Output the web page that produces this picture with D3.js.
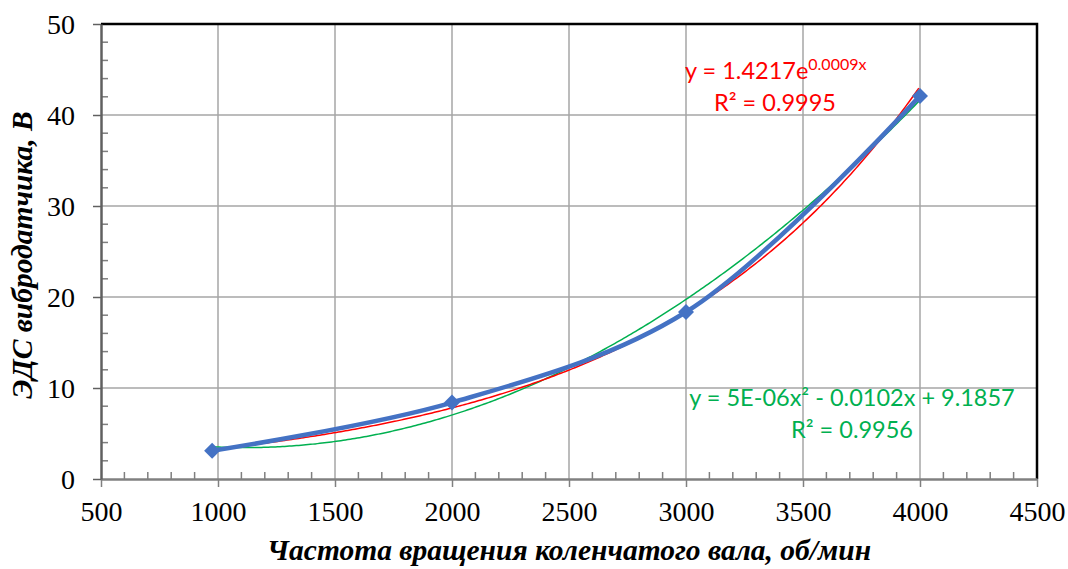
<!DOCTYPE html>
<html lang="ru">
<head>
<meta charset="UTF-8">
<title>ЭДС вибродатчика</title>
<script src="https://d3js.org/d3.v7.min.js"></script>
<style>
  body { margin: 0; background: #fff; }
  .tick text { font-family: "Liberation Serif", "Times New Roman", serif; }
</style>
</head>
<body>
<svg id="chart"></svg>
<script>
// data
const rpm = [975, 2000, 3000, 4000];
const emf = [3.1, 8.4, 18.35, 42.1];
const xTicks = [500, 1000, 1500, 2000, 2500, 3000, 3500, 4000, 4500];
const yTicks = [0, 10, 20, 30, 40, 50];
const expLabel = ["y = 1.4217e", "0.0009x", "R² = 0.9995"];
const polyLabel = ["y = 5E-06x² - 0.0102x + 9.1857", "R² = 0.9956"];
const xTitle = "Частота вращения коленчатого вала, об/мин";
const yTitle = "ЭДС вибродатчика, В";

const width = 1068, height = 569;
const m = {left: 101, right: 31, top: 24, bottom: 90};

const svg = d3.select("#chart").attr("width", width).attr("height", height);

const x = d3.scaleLinear().domain([500, 4500]).range([m.left, width - m.right]);
const y = d3.scaleLinear().domain([0, 50]).range([height - m.bottom, m.top]);

// grid
svg.append("g").selectAll("line").data(xTicks.slice(1, -1)).join("line")
  .attr("x1", d => x(d)).attr("x2", d => x(d))
  .attr("y1", y(50)).attr("y2", y(0))
  .attr("stroke", "#a6a6a6").attr("stroke-width", 1.5);
svg.append("g").selectAll("line").data(yTicks.slice(1, -1)).join("line")
  .attr("x1", x(500)).attr("x2", x(4500))
  .attr("y1", d => y(d)).attr("y2", d => y(d))
  .attr("stroke", "#a6a6a6").attr("stroke-width", 1.5);

// top and right border
svg.append("path")
  .attr("d", `M${x(500)},${y(50)}H${x(4500)}V${y(0)}`)
  .attr("fill", "none").attr("stroke", "#000").attr("stroke-width", 2.5);

// minor ticks (inside)
const xMinor = d3.range(500, 4501, 100).filter(v => v % 500 !== 0);
const yMinor = d3.range(0, 50.1, 2).filter(v => v % 10 !== 0);
svg.append("g").selectAll("line").data(xMinor).join("line")
  .attr("x1", d => x(d)).attr("x2", d => x(d))
  .attr("y1", y(0)).attr("y2", y(0) - 7)
  .attr("stroke", "#7f7f7f").attr("stroke-width", 1.5);
svg.append("g").selectAll("line").data(yMinor).join("line")
  .attr("x1", x(500)).attr("x2", x(500) + 7)
  .attr("y1", d => y(d)).attr("y2", d => y(d))
  .attr("stroke", "#7f7f7f").attr("stroke-width", 1.5);

// axes
const xAxis = svg.append("g").attr("transform", `translate(0,${y(0)})`)
  .call(d3.axisBottom(x).tickValues(xTicks).tickFormat(d3.format("d"))
    .tickSize(8).tickSizeOuter(0).tickPadding(14));
const yAxis = svg.append("g").attr("transform", `translate(${x(500)},0)`)
  .call(d3.axisLeft(y).tickValues(yTicks).tickFormat(d3.format("d"))
    .tickSize(8).tickSizeOuter(0).tickPadding(18));
[xAxis, yAxis].forEach(g => {
  g.select(".domain").attr("stroke-width", 2.5);
  g.selectAll(".tick line").attr("stroke-width", 1.5);
  g.selectAll(".tick text").attr("font-size", 28).attr("fill", "#000");
});
xAxis.selectAll(".tick line, .domain").attr("stroke", "#808080");
yAxis.selectAll(".tick line, .domain").attr("stroke", "#606060");
yAxis.selectAll(".tick text").attr("dy", "0.35em");

// trendlines (least squares on the data, as the spreadsheet does)
const n = rpm.length;
const lnY = emf.map(Math.log);
const mx = d3.mean(rpm), ml = d3.mean(lnY);
const bExp = d3.sum(rpm, (v, i) => (v - mx) * (lnY[i] - ml)) / d3.sum(rpm, v => (v - mx) ** 2);
const aExp = Math.exp(ml - bExp * mx);

function solve3(A, b) {
  const M = A.map((r, i) => [...r, b[i]]);
  for (let i = 0; i < 3; i++) {
    for (let k = i + 1; k < 3; k++) {
      const f = M[k][i] / M[i][i];
      for (let j = i; j < 4; j++) M[k][j] -= f * M[i][j];
    }
  }
  const s = [0, 0, 0];
  for (let i = 2; i >= 0; i--) {
    let t = M[i][3];
    for (let j = i + 1; j < 3; j++) t -= M[i][j] * s[j];
    s[i] = t / M[i][i];
  }
  return s;
}
const S = p => d3.sum(rpm, v => v ** p);
const T = p => d3.sum(rpm, (v, i) => v ** p * emf[i]);
const [c0, c1, c2] = solve3(
  [[n, S(1), S(2)], [S(1), S(2), S(3)], [S(2), S(3), S(4)]],
  [T(0), T(1), T(2)]);

const xs = d3.range(rpm[0], rpm[n - 1] + 1, 10);
const fitLine = d3.line().x(d => x(d[0])).y(d => y(d[1]));

svg.append("path").datum(xs.map(v => [v, c0 + c1 * v + c2 * v * v]))
  .attr("d", fitLine).attr("fill", "none").attr("stroke", "#00b050").attr("stroke-width", 1.5);
svg.append("path").datum(xs.map(v => [v, aExp * Math.exp(bExp * v)]))
  .attr("d", fitLine).attr("fill", "none").attr("stroke", "#ff0000").attr("stroke-width", 1.5);

// data series
const line = d3.line().x((d, i) => x(rpm[i])).y(d => y(d)).curve(d3.curveCatmullRom.alpha(0.5));
svg.append("path").datum(emf).attr("d", line)
  .attr("fill", "none").attr("stroke", "#4472c4").attr("stroke-width", 4.5);
svg.append("g").selectAll("path").data(emf).join("path")
  .attr("transform", (d, i) => `translate(${x(rpm[i])},${y(d)})`)
  .attr("d", "M0,-8L8,0L0,8L-8,0Z")
  .attr("fill", "#4472c4");

// equation labels
const eqFont = "Lato, 'Open Sans', sans-serif";
const t1 = svg.append("text").attr("x", 685).attr("y", 79)
  .attr("font-family", eqFont).attr("font-size", 23.5).attr("fill", "#ff0000");
t1.append("tspan").text(expLabel[0]);
t1.append("tspan").attr("font-size", 16).attr("dy", -9).text(expLabel[1]);
svg.append("text").attr("x", 775).attr("y", 111).attr("text-anchor", "middle")
  .attr("font-family", eqFont).attr("font-size", 23.5).attr("fill", "#ff0000").text(expLabel[2]);

svg.append("text").attr("x", 852).attr("y", 406).attr("text-anchor", "middle")
  .attr("font-family", eqFont).attr("font-size", 23.5).attr("fill", "#00b050").text(polyLabel[0]);
svg.append("text").attr("x", 852).attr("y", 438).attr("text-anchor", "middle")
  .attr("font-family", eqFont).attr("font-size", 23.5).attr("fill", "#00b050").text(polyLabel[1]);

// axis titles
svg.append("text").attr("x", (x(500) + x(4500)) / 2).attr("y", 560)
  .attr("text-anchor", "middle")
  .attr("font-family", "'Liberation Serif', 'Times New Roman', serif")
  .attr("font-size", 29.5).attr("font-weight", "bold").attr("font-style", "italic")
  .text(xTitle);
svg.append("text").attr("transform", `translate(32,255) rotate(-90)`)
  .attr("text-anchor", "middle")
  .attr("font-family", "'Liberation Serif', 'Times New Roman', serif")
  .attr("font-size", 29.5).attr("font-weight", "bold").attr("font-style", "italic")
  .text(yTitle);
</script>
</body>
</html>
